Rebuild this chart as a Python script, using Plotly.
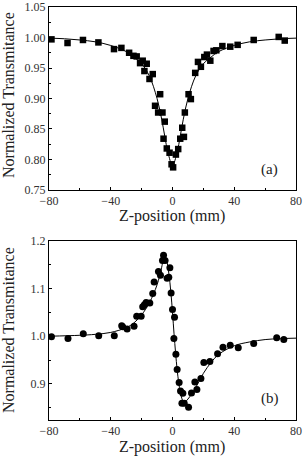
import plotly.graph_objects as go

# Panel (a) data
za = [-78.4, -68, -58, -48, -37.9, -33.1, -28.1, -25.3, -23.2, -21, -19.3, -18.2, -16.7,
      -14.9, -12.8, -11.3, -9.3, -8, -6.5, -5.8, -5, -3.7, -1.9, -0.6, 0.4, 2.2, 3.7, 5,
      6.3, 7.4, 8, 10.4, 11.9, 14.7, 16.5, 18.4, 20.6, 22.3, 24.5, 26.6, 28.4, 32.3, 37.4,
      42.2, 52.6, 68.8, 72.7]
ta = [0.997, 0.991, 0.996, 0.992, 0.981, 0.983, 0.975, 0.970, 0.969, 0.958, 0.962, 0.945,
      0.957, 0.932, 0.940, 0.888, 0.877, 0.907, 0.877, 0.834, 0.862, 0.818, 0.811, 0.792,
      0.787, 0.808, 0.817, 0.834, 0.852, 0.837, 0.877, 0.907, 0.899, 0.942, 0.960, 0.952,
      0.968, 0.972, 0.962, 0.978, 0.979, 0.986, 0.985, 0.988, 0.996, 1.001, 0.995]
fit_za = [-80, -70, -60, -50, -40, -30, -25, -20, -15, -10, -7, -5, -3, 0, 3, 5, 7, 10, 15,
          20, 25, 30, 40, 50, 60, 70, 80]
fit_ta = [0.999, 0.998, 0.996, 0.993, 0.987, 0.977, 0.968, 0.957, 0.937, 0.900, 0.866,
          0.838, 0.812, 0.790, 0.812, 0.838, 0.866, 0.900, 0.937, 0.957, 0.968, 0.977,
          0.987, 0.993, 0.996, 0.998, 0.999]

# Panel (b) data
zb = [-78.4, -67.7, -57.8, -47.8, -37.7, -32.9, -32.3, -29.4, -24.9, -23.2, -20.3, -19.3,
      -18.2, -17.1, -14.7, -12.8, -11.9, -9.1, -7.8, -6.5, -5.8, -4.8, -3.5, -2.4, -1.7,
      -0.9, 0, 1.3, 0.9, 2.2, 3.0, 4.3, 5.2, 6.7, 6.1, 7.6, 10.4, 12.3, 14.5, 15.8, 18.4,
      20.3, 24.2, 29.2, 32.7, 37.4, 42.6, 52.6, 67.5, 72.1]
tb = [0.999, 0.995, 1.005, 1.001, 1.001, 1.022, 1.020, 1.015, 1.021, 1.042, 1.042, 1.062,
      1.066, 1.071, 1.070, 1.090, 1.114, 1.136, 1.128, 1.159, 1.170, 1.159, 1.122, 1.124,
      1.144, 1.091, 1.056, 1.040, 0.995, 0.962, 0.930, 0.903, 0.885, 0.880, 0.859, 0.859,
      0.851, 0.881, 0.904, 0.888, 0.911, 0.945, 0.947, 0.963, 0.977, 0.981, 0.976, 0.985,
      0.997, 0.993]
fit_zb = [-80, -60, -50, -40, -30, -25, -20, -15, -10, -7, -5.5, -4, -2.5, -1, 0, 1, 2, 3,
          4, 5, 6, 7, 8, 10, 15, 20, 25, 30, 40, 50, 60, 70, 80]
fit_tb = [1.000, 1.002, 1.004, 1.008, 1.018, 1.028, 1.045, 1.070, 1.108, 1.145, 1.166,
          1.160, 1.135, 1.090, 1.050, 1.005, 0.965, 0.930, 0.903, 0.883, 0.870, 0.863,
          0.862, 0.868, 0.892, 0.922, 0.945, 0.962, 0.980, 0.988, 0.993, 0.995, 0.996]

x_ticks = [-80, -40, 0, 40, 80]
ya_ticks = [0.75, 0.80, 0.85, 0.90, 0.95, 1.00, 1.05]
ya_minor = [0.775, 0.825, 0.875, 0.925, 0.975, 1.025]
yb_ticks = [0.9, 1.0, 1.1, 1.2]
yb_minor = [0.85, 0.95, 1.05, 1.15]
serif = "Liberation Serif, serif"

fig = go.Figure()
fig.add_trace(go.Scatter(x=fit_za, y=fit_ta, mode="lines", line=dict(color="black", width=1, shape="spline"),
                         xaxis="x", yaxis="y", showlegend=False, hoverinfo="skip"))
fig.add_trace(go.Scatter(x=za, y=ta, mode="markers", marker=dict(symbol="square", size=6.5, color="black"),
                         xaxis="x", yaxis="y", showlegend=False))
fig.add_trace(go.Scatter(x=fit_zb, y=fit_tb, mode="lines", line=dict(color="black", width=1, shape="spline"),
                         xaxis="x2", yaxis="y2", showlegend=False, hoverinfo="skip"))
fig.add_trace(go.Scatter(x=zb, y=tb, mode="markers", marker=dict(symbol="circle", size=7, color="black"),
                         xaxis="x2", yaxis="y2", showlegend=False))

base = dict(showline=True, linecolor="black", linewidth=1, mirror=True, ticks="inside",
            ticklen=3, tickcolor="black", showgrid=False, zeroline=False, automargin=False,
            ticklabeloverflow="allow",
            tickfont=dict(family=serif, size=12, color="#333"))
xminor = dict(ticks="inside", ticklen=2, tickcolor="black", dtick=20, tick0=-80)

T, B = 7, 38
fig.update_layout(
    width=305, height=458,
    margin=dict(l=49, r=9, t=T, b=B),
    paper_bgcolor="white", plot_bgcolor="white",
    xaxis=dict(domain=[0, 1], range=[-80, 80], tickvals=x_ticks, anchor="y", minor=xminor, **base),
    yaxis=dict(domain=[0.557, 1], range=[0.7499, 1.0501], tickvals=ya_ticks, tickformat=".2f", anchor="x",
               minor=dict(ticks="inside", ticklen=2, tickcolor="black", tickvals=ya_minor), **base),
    xaxis2=dict(domain=[0, 1], range=[-80, 80], tickvals=x_ticks, anchor="y2", minor=xminor, **base),
    yaxis2=dict(domain=[0, 0.4334], range=[0.824, 1.2001], tickvals=yb_ticks, tickformat=".1f",
                anchor="x2",
                minor=dict(ticks="inside", ticklen=2, tickcolor="black", tickvals=yb_minor),
                **base),
    annotations=[
        dict(text="(a)", x=63, y=0.784, xref="x", yref="y", showarrow=False,
             font=dict(family=serif, size=15, color="#222")),
        dict(text="(b)", x=63, y=0.869, xref="x2", yref="y2", showarrow=False,
             font=dict(family=serif, size=15, color="#222")),
        dict(text="Z-position (mm)", x=172, y=458 - 216, xref="paper", yref="paper", showarrow=False,
             font=dict(family=serif, size=16, color="#222"), xanchor="center", yanchor="middle"),
        dict(text="Z-position (mm)", x=172, y=458 - 447, xref="paper", yref="paper", showarrow=False,
             font=dict(family=serif, size=16, color="#222"), xanchor="center", yanchor="middle"),
        dict(text="Normalized Transmitance", x=8, y=458 - 95, xref="paper", yref="paper", showarrow=False,
             textangle=-90, font=dict(family=serif, size=16, color="#222"), xanchor="center", yanchor="middle"),
        dict(text="Normalized Transmitance", x=8, y=458 - 330, xref="paper", yref="paper", showarrow=False,
             textangle=-90, font=dict(family=serif, size=16, color="#222"), xanchor="center", yanchor="middle"),
    ],
)

# convert pixel positions of the title annotations to paper fractions
pw, ph = 305 - 49 - 9, 458 - T - B
for a in fig.layout.annotations:
    if a.xref == "paper":
        a.x = (a.x - 49) / pw
        a.y = (a.y - B) / ph

fig.write_html("out.html", config={"displayModeBar": False},
               post_script="document.body.style.margin='0';document.body.style.overflow='hidden';")
